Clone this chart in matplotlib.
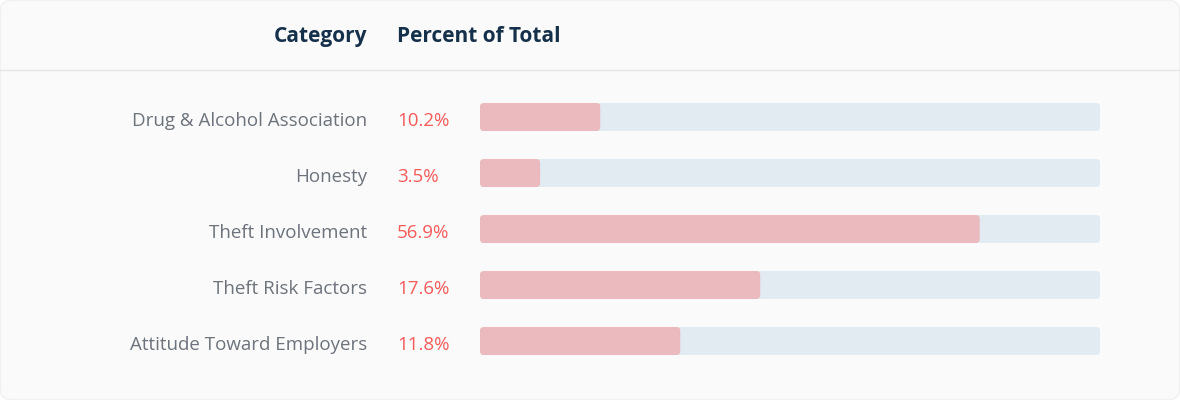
import matplotlib
matplotlib.use("Agg")
import matplotlib.pyplot as plt
from matplotlib.patches import FancyBboxPatch

categories = ["Drug & Alcohol Association", "Honesty", "Theft Involvement",
              "Theft Risk Factors", "Attitude Toward Employers"]
percent_labels = ["10.2%", "3.5%", "56.9%", "17.6%", "11.8%"]
# filled share of each track (percent of track length)
bar_fill = [19.4, 9.7, 80.6, 45.2, 32.3]
headers = ["Category", "Percent of Total"]

W, H = 1180, 400
fig = plt.figure(figsize=(W / 100, H / 100), dpi=100, facecolor="white")
plt.rcParams["font.family"] = ["Open Sans", "DejaVu Sans"]

# background panel
bg = fig.add_axes([0, 0, 1, 1])
bg.set_xlim(0, W)
bg.set_ylim(H, 0)
bg.axis("off")
bg.add_patch(FancyBboxPatch((0.5, 0.5), W - 1, H - 1,
                            boxstyle="round,pad=0,rounding_size=10",
                            fc="#fafafa", ec="#f1f1f1", lw=1))
bg.plot([0, W], [70, 70], color="#e6e6e6", lw=1)

hdr_col = "#15304a"
bg.text(367, 36.5, headers[0], ha="right", va="center", fontsize=15,
        fontweight="bold", color=hdr_col)
bg.text(397, 36.5, headers[1], ha="left", va="center", fontsize=15,
        fontweight="bold", color=hdr_col)

# bar area
x0, x1 = 480, 1100
top, row_h = 89, 56
n = len(categories)
ax = fig.add_axes([x0 / W, 1 - (top + row_h * n) / H, (x1 - x0) / W, row_h * n / H])
ax.set_xlim(0, 100)
ax.set_ylim(n - 0.5, -0.5)
ax.axis("off")
ax.patch.set_alpha(0)

xu_per_px = 100 / (x1 - x0)
yu_per_px = 1 / row_h
aspect = yu_per_px / xu_per_px
bh = 28 * yu_per_px
r = 4 * xu_per_px

for i, (cat, lab, v) in enumerate(zip(categories, percent_labels, bar_fill)):
    ax.add_patch(FancyBboxPatch((0, i - bh / 2), 100, bh,
                                boxstyle=f"round,pad=0,rounding_size={r}",
                                mutation_aspect=aspect, fc="#e3ebf2", ec="none"))
    ax.add_patch(FancyBboxPatch((0, i - bh / 2), v, bh,
                                boxstyle=f"round,pad=0,rounding_size={r}",
                                mutation_aspect=aspect, fc="#eababe", ec="none"))
    yc = top + row_h * i + row_h / 2 + 3.5
    bg.text(367, yc, cat, ha="right", va="center", fontsize=13.5, color="#6c737c")
    bg.text(397, yc, lab, ha="left", va="center", fontsize=13.5, color="#f65a5a")

fig.savefig("out.png", dpi=100, facecolor="white")
